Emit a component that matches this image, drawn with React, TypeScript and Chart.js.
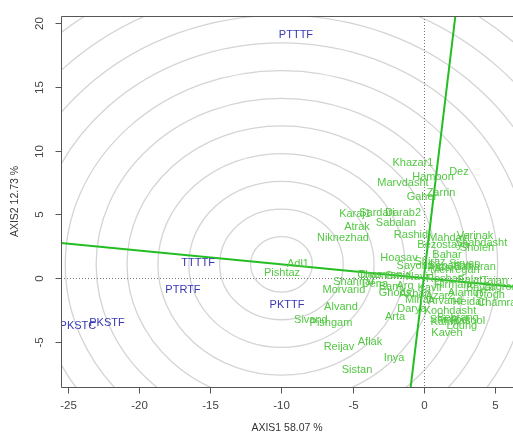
import React, { useEffect, useRef } from "react";
import { Chart, registerables } from "chart.js";
Chart.register(...registerables);

// Environments (blue labels)
const envNames = ["PTTTF", "TTTTF", "PTRTF", "PKSTC", "PKSTF", "PKTTF"];
const envX = [-8.98, -15.86, -16.92, -24.3, -22.26, -9.61];
const envY = [19.06, 1.19, -0.92, -3.76, -3.5, -2.09];

// Genotypes (green labels)
const genNames = [
  "Khazar1", "Hamoon", "Dez", "Marvdasht", "Zarrin", "Gaher", "Karaj1", "Sardari", "Darab2",
  "Sabalan", "Atrak", "Niknezhad", "Rashid", "Mahdavi", "Verinak", "Bezostaya", "Shahdasht",
  "Sholeh", "Hoasav", "Bahar", "Adl1", "Pishtaz", "Tous", "Shahriar", "Morvarid", "Alvand",
  "Sivand", "Pishgam", "Arta", "Darya", "Chamran2", "Kaveh", "Loung", "Aflak", "Reijav",
  "Inya", "Sistan",
  "Shiraz", "Sepahan", "Sirvan", "Mehregan", "Parsi", "Baharan", "Sayonz", "Chamran", "Omid",
  "Navid", "Roshan", "Falat", "Tajan", "Dena", "Bam", "Arg", "Kavir", "Hirmand", "Bayat",
  "Zagros", "Ghods", "Akbari", "Azar2", "Alamut", "Ofogh", "Mihan", "Arvand", "Heidari",
  "Koohdasht", "Shiroodi", "Rasool", "Karim", "Behrang",
];
const genX = [
  -0.76, 0.65, 2.47, -1.46, 1.21, -0.13, -4.83, -3.29, -1.46,
  -1.95, -4.69, -5.68, -0.9, 1.77, 3.6, 1.35, 4.02,
  3.74, -1.74, 1.63, -8.84, -9.96, -3.78, -4.9, -5.61, -5.82,
  -7.93, -6.52, -2.02, -0.83, 5.56, 1.63, 2.68, -3.78, -5.96,
  -2.09, -4.69,
  0.44, 1.84, 2.89, 2.19, 1.14, 3.6, -0.62, -3.08, -1.81,
  -0.27, 1.49, 3.25, 5.0, -3.43, -2.37, -1.32, 0.44, 2.19, 3.95,
  5.35, -2.02, -0.62, 1.14, 2.89, 4.65, -0.27, 1.49, 3.25,
  1.84, 1.84, 3.11, 1.49, 2.4,
];
const genY = [
  9.03, 7.93, 8.32, 7.46, 6.68, 6.36, 5.03, 5.11, 5.11,
  4.33, 4.01, 3.15, 3.39, 3.15, 3.31, 2.6, 2.76,
  2.37, 1.58, 1.82, 1.11, 0.41, 0.25, -0.3, -0.92, -2.26,
  -3.28, -3.51, -3.04, -2.41, -1.94, -4.29, -3.75, -5.0, -5.39,
  -6.25, -7.2,
  1.27, 0.96, 1.11, 0.64, 0.8, 0.88, 0.96, 0.25, 0.17,
  0.09, -0.06, -0.14, -0.22, -0.45, -0.69, -0.61, -0.77, -0.53, -0.77,
  -0.69, -1.16, -1.24, -1.39, -1.16, -1.32, -1.71, -1.79, -1.87,
  -2.57, -3.28, -3.35, -3.43, -3.12,
];

// Axes
const xTicks = [-25, -20, -15, -10, -5, 0, 5];
const yTicks = [-5, 0, 5, 10, 15, 20];
const xRange = [-25.49, 6.27];
const yRange = [-8.53, 20.55];
const xTitle = "AXIS1 58.07 %";
const yTitle = "AXIS2 12.73 %";

// Concentric circles (ideal genotype ranking)
const circleCenter = [-10, 1.08];
const circleRadii = [2.17, 4.34, 6.51, 8.68, 10.85, 13.02, 15.19, 17.36, 19.53, 21.7, 23.87, 26.04];

// Average environment axis and its perpendicular
const aeaX = [-25.49, 6.27];
const aeaY = [2.75, -0.68];
const perpX = [2.22, -0.92];
const perpY = [20.55, -8.53];

const FONT = "'Liberation Sans', Arial, sans-serif";
const GREEN_LINE = "#22BE22";
const GREEN_TEXT = "#52C842";
const BLUE_TEXT = "#3838B4";

const biplotPlugin = {
  id: "biplot",
  beforeDatasetsDraw(chart: any) {
    const { ctx, chartArea, scales } = chart;
    const xs = scales.x;
    const ys = scales.y;
    ctx.save();
    ctx.beginPath();
    ctx.rect(chartArea.left, chartArea.top, chartArea.right - chartArea.left, chartArea.bottom - chartArea.top);
    ctx.clip();
    const cx = xs.getPixelForValue(circleCenter[0]);
    const cy = ys.getPixelForValue(circleCenter[1]);
    ctx.strokeStyle = "#D4D4D4";
    ctx.lineWidth = 1.3;
    for (const r of circleRadii) {
      const rx = Math.abs(xs.getPixelForValue(circleCenter[0] + r) - cx);
      const ry = Math.abs(ys.getPixelForValue(circleCenter[1] + r) - cy);
      ctx.beginPath();
      ctx.ellipse(cx, cy, rx, ry, 0, 0, Math.PI * 2);
      ctx.stroke();
    }
    // dotted zero lines
    ctx.strokeStyle = "#777";
    ctx.lineWidth = 1;
    ctx.setLineDash([1, 2]);
    const x0 = Math.round(xs.getPixelForValue(0)) + 0.5;
    const y0 = Math.round(ys.getPixelForValue(0)) + 0.5;
    ctx.beginPath();
    ctx.moveTo(x0, chartArea.top);
    ctx.lineTo(x0, chartArea.bottom);
    ctx.moveTo(chartArea.left, y0);
    ctx.lineTo(chartArea.right, y0);
    ctx.stroke();
    ctx.setLineDash([]);
    ctx.restore();
  },
  afterDatasetsDraw(chart: any) {
    const { ctx, chartArea, scales } = chart;
    const xs = scales.x;
    const ys = scales.y;
    ctx.save();
    ctx.beginPath();
    ctx.rect(chartArea.left, chartArea.top, chartArea.right - chartArea.left, chartArea.bottom - chartArea.top);
    ctx.clip();
    ctx.font = `11px ${FONT}`;
    ctx.textAlign = "center";
    ctx.textBaseline = "middle";
    ctx.fillStyle = GREEN_TEXT;
    genNames.forEach((n, i) => {
      ctx.fillText(n, xs.getPixelForValue(genX[i]), ys.getPixelForValue(genY[i]));
    });
    ctx.fillStyle = BLUE_TEXT;
    envNames.forEach((n, i) => {
      ctx.fillText(n, xs.getPixelForValue(envX[i]), ys.getPixelForValue(envY[i]));
    });
    ctx.restore();

    // box + axes
    ctx.save();
    ctx.strokeStyle = "#555";
    ctx.lineWidth = 1;
    const L = Math.round(chartArea.left) + 0.5;
    const T = Math.round(chartArea.top) + 0.5;
    const B = Math.round(chartArea.bottom) + 0.5;
    const R = chartArea.right;
    ctx.beginPath();
    ctx.moveTo(R, T);
    ctx.lineTo(L, T);
    ctx.lineTo(L, B);
    ctx.lineTo(R, B);
    ctx.stroke();
    ctx.font = `11.5px ${FONT}`;
    ctx.fillStyle = "#444";
    ctx.textAlign = "center";
    ctx.textBaseline = "middle";
    for (const v of xTicks) {
      const px = Math.round(xs.getPixelForValue(v)) + 0.5;
      ctx.beginPath();
      ctx.moveTo(px, B);
      ctx.lineTo(px, B + 6);
      ctx.stroke();
      ctx.fillText(String(v), px, B + 18);
    }
    for (const v of yTicks) {
      const py = Math.round(ys.getPixelForValue(v)) + 0.5;
      ctx.beginPath();
      ctx.moveTo(L - 6, py);
      ctx.lineTo(L, py);
      ctx.stroke();
      ctx.save();
      ctx.translate(L - 22, py);
      ctx.rotate(-Math.PI / 2);
      ctx.fillText(String(v), 0, 0);
      ctx.restore();
    }
    ctx.font = `10.5px ${FONT}`;
    ctx.fillStyle = "#333";
    ctx.fillText(xTitle, (chartArea.left + chartArea.right) / 2, B + 41);
    ctx.save();
    ctx.translate(15, (chartArea.top + chartArea.bottom) / 2);
    ctx.rotate(-Math.PI / 2);
    ctx.fillText(yTitle, 0, 0);
    ctx.restore();
    ctx.restore();
  },
};

export default function App() {
  const ref = useRef<HTMLCanvasElement | null>(null);
  useEffect(() => {
    document.body.style.margin = "0";
    const canvas = ref.current;
    if (!canvas) return;
    const chart = new Chart(canvas, {
      type: "scatter",
      data: {
        datasets: [
          {
            data: aeaX.map((x, i) => ({ x, y: aeaY[i] })),
            showLine: true,
            borderColor: GREEN_LINE,
            borderWidth: 2,
            pointRadius: 0,
          },
          {
            data: perpX.map((x, i) => ({ x, y: perpY[i] })),
            showLine: true,
            borderColor: GREEN_LINE,
            borderWidth: 2,
            pointRadius: 0,
          },
          {
            data: genX.map((x, i) => ({ x, y: genY[i] })),
            pointRadius: 0,
          },
          {
            data: envX.map((x, i) => ({ x, y: envY[i] })),
            pointRadius: 0,
          },
        ],
      },
      options: {
        responsive: false,
        animation: false,
        devicePixelRatio: 1,
        layout: { padding: { top: 16, right: 0, left: 0, bottom: 0 } },
        plugins: { legend: { display: false }, tooltip: { enabled: false } },
        events: [],
        scales: {
          x: {
            type: "linear",
            min: xRange[0],
            max: xRange[1],
            grid: { display: false },
            border: { display: false },
            ticks: { display: false },
            afterFit: (s: any) => {
              s.height = 47;
            },
          },
          y: {
            type: "linear",
            min: yRange[0],
            max: yRange[1],
            grid: { display: false },
            border: { display: false },
            ticks: { display: false },
            afterFit: (s: any) => {
              s.width = 61;
            },
          },
        },
      },
      plugins: [biplotPlugin],
    } as any);
    return () => chart.destroy();
  }, []);
  return (
    <div style={{ width: 513, height: 434, background: "#fff" }}>
      <canvas ref={ref} width={513} height={434} style={{ display: "block" }} />
    </div>
  );
}
